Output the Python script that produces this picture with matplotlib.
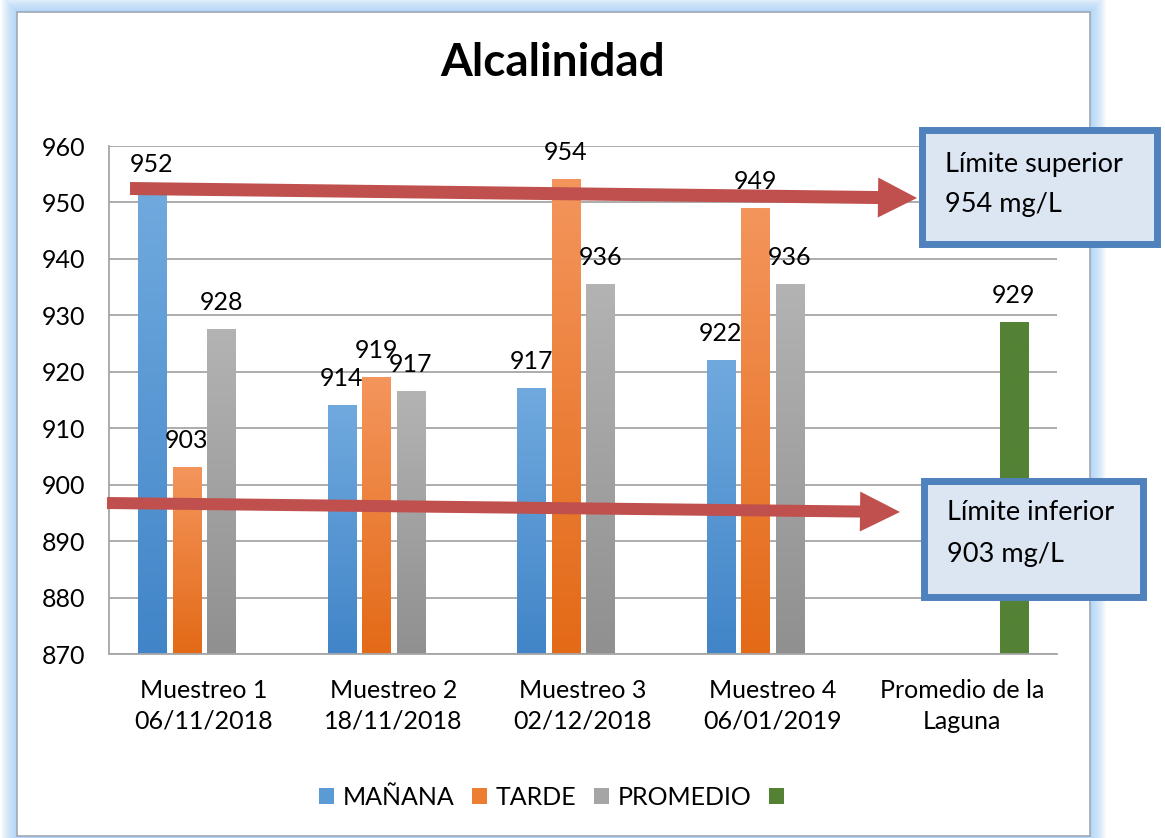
import numpy as np
import matplotlib.pyplot as plt
from matplotlib.patches import Rectangle, FancyArrow, Patch

plt.rcParams['font.family'] = ['Lato', 'DejaVu Sans']

# Data
categories = ['Muestreo 1\n06/11/2018', 'Muestreo 2\n18/11/2018',
              'Muestreo 3\n02/12/2018', 'Muestreo 4\n06/01/2019',
              'Promedio de la\nLaguna']
manana = [952, 914, 917, 922, np.nan]
tarde = [903, 919, 954, 949, np.nan]
promedio = [927.5, 916.5, 935.5, 935.5, np.nan]
laguna = [np.nan, np.nan, np.nan, np.nan, 928.75]
series_names = ['MAÑANA', 'TARDE', 'PROMEDIO', '']
yticks = list(range(870, 961, 10))

# gradient colours (top, bottom) per series
grad = [('#70A9DE', '#4185C8'), ('#F4955C', '#E36A17'),
        ('#B3B3B3', '#909090'), ('#548235', '#548235')]
legend_cols = ['#5B9BD5', '#ED7D31', '#A5A5A5', '#548235']

W, H = 1165, 838
fs = 18
fig = plt.figure(figsize=(W / 100, H / 100), dpi=100)

# background: chart frame with blue glow
bg = fig.add_axes([0, 0, 1, 1], zorder=0)
bg.set_xlim(0, W)
bg.set_ylim(H, 0)
bg.axis('off')
fx0, fy0, fx1, fy1 = 17, 12, 1090, 836
for k in range(16, 0, -1):
    bg.add_patch(Rectangle((fx0 - k, fy0 - k), fx1 - fx0 + 2 * k, fy1 - fy0 + 2 * k,
                           facecolor='#9CCBF7', edgecolor='none', alpha=0.07))
bg.add_patch(Rectangle((fx0, fy0), fx1 - fx0, fy1 - fy0, facecolor='white',
                       edgecolor='#9FA8B5', linewidth=1.2))

# main chart
ax = fig.add_axes([109 / W, 1 - 654 / H, (1057 - 109) / W, (654 - 146) / H], zorder=1)
ax.patch.set_alpha(0)
x = np.arange(len(categories))
bw = 0.148
step = 0.182
all_series = [manana, tarde, promedio, laguna]
for i, vals in enumerate(all_series):
    bars = ax.bar(x + (i - 1.5) * step, np.array(vals) - 870, bw, bottom=870,
                  color='none', zorder=2)
    top_c, bot_c = grad[i]
    for p, v in zip(bars.patches, vals):
        if np.isnan(v):
            continue
        x0, y0 = p.get_xy()
        w, h = p.get_width(), p.get_height()
        c = np.linspace(np.array(plt.matplotlib.colors.to_rgb(top_c)),
                        np.array(plt.matplotlib.colors.to_rgb(bot_c)), 64)
        ax.imshow(c[:, None, :], extent=[x0, x0 + w, y0, y0 + h],
                  aspect='auto', zorder=2, interpolation='bilinear')
        ax.annotate(f'{int(v + 0.5)}', (x0 + w / 2, y0 + h), xytext=(0, 14),
                    textcoords='offset points', ha='center', va='baseline',
                    fontsize=fs, zorder=3)

ax.set_xlim(-0.5, len(categories) - 0.5)
ax.set_ylim(870, 960)
ax.set_yticks(yticks)
ax.set_xticks(x)
ax.set_xticklabels(categories, fontsize=fs, linespacing=1.4)
ax.tick_params(axis='y', length=0, pad=17, labelsize=fs)
ax.tick_params(axis='x', length=0, pad=18)
ax.grid(axis='y', color='#A6A6A6', linewidth=1.3, zorder=0)
ax.set_axisbelow(True)
for s in ['top', 'right']:
    ax.spines[s].set_visible(False)
for s in ['left', 'bottom']:
    ax.spines[s].set_color('#A6A6A6')
    ax.spines[s].set_linewidth(1.3)

handles = [Patch(facecolor=c) for c in legend_cols]
ax.legend(handles, series_names, loc='center', bbox_to_anchor=(556 / W, 1 - 797 / H),
          bbox_transform=fig.transFigure, ncol=4, frameon=False, fontsize=fs,
          handlelength=0.6, handleheight=0.6, handletextpad=0.35,
          columnspacing=0.7)

fig.text(553 / W, 1 - 63 / H, 'Alcalinidad', fontsize=33, fontweight='bold',
         ha='center', va='center')

# foreground: arrows and limit boxes
fg = fig.add_axes([0, 0, 1, 1], zorder=3)
fg.set_xlim(0, W)
fg.set_ylim(H, 0)
fg.axis('off')
red = '#C0504D'
fg.add_patch(FancyArrow(130, 188.5, 917 - 130, 198 - 188.5, width=13, head_width=40,
                        head_length=39, length_includes_head=True, color=red, lw=0))
fg.add_patch(FancyArrow(107, 503, 900 - 107, 512 - 503, width=12, head_width=40,
                        head_length=40, length_includes_head=True, color=red, lw=0))

boxes = [((918, 127, 1160, 248), 'Límite superior', '954 mg/L', 945, 172, 212),
         ((920, 477, 1146, 600), 'Límite inferior', '903 mg/L', 947, 520, 562)]
for (bx0, by0, bx1, by1), l1, l2, tx, b1, b2 in boxes:
    fg.add_patch(Rectangle((bx0 + 3.5, by0 + 3.5), bx1 - bx0 - 7, by1 - by0 - 7,
                           facecolor='#DCE6F2', edgecolor='#4F81BD', linewidth=5))
    fg.text(tx, b1, l1, fontsize=19.5, ha='left', va='baseline')
    fg.text(tx, b2, l2, fontsize=19.5, ha='left', va='baseline')

fig.savefig('out.png', dpi=100)
